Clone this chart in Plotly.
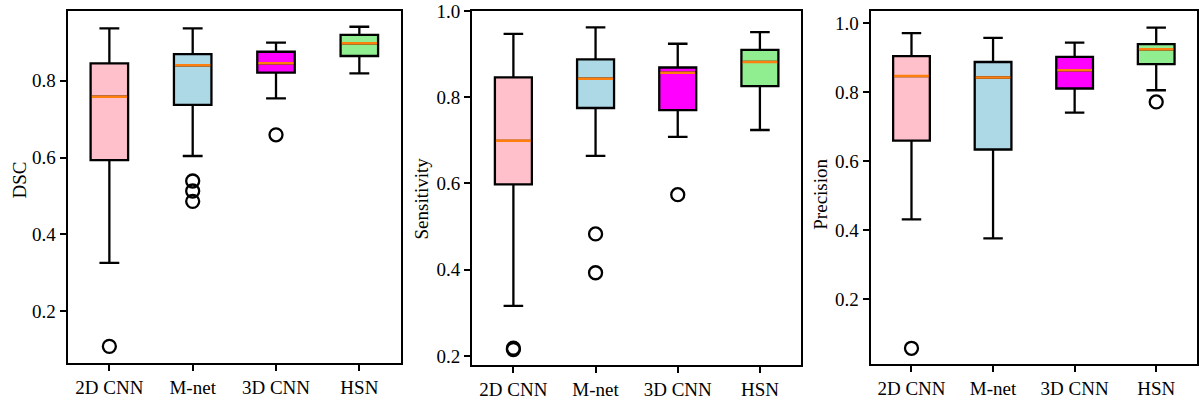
import plotly.graph_objects as go

W, H = 1199, 402

categories = ["2D CNN", "M-net", "3D CNN", "HSN"]
fill_colors = ["#FFC0CB", "#ADD8E6", "#FF00FF", "#90EE90"]

# DSC
dsc_lower = [0.326, 0.604, 0.754, 0.819]
dsc_q1 = [0.593, 0.737, 0.821, 0.864]
dsc_median = [0.758, 0.840, 0.845, 0.897]
dsc_q3 = [0.845, 0.869, 0.875, 0.919]
dsc_upper = [0.936, 0.936, 0.899, 0.940]
dsc_out = [[0.109], [0.539, 0.513, 0.486], [0.659], []]

# Sensitivity
sen_lower = [0.316, 0.664, 0.708, 0.724]
sen_q1 = [0.598, 0.775, 0.770, 0.826]
sen_median = [0.699, 0.843, 0.857, 0.882]
sen_q3 = [0.846, 0.888, 0.869, 0.910]
sen_upper = [0.947, 0.962, 0.924, 0.951]
sen_out = [[0.215, 0.218], [0.483, 0.393], [0.574], []]

# Precision
pre_lower = [0.431, 0.376, 0.741, 0.806]
pre_q1 = [0.660, 0.634, 0.811, 0.882]
pre_median = [0.847, 0.843, 0.864, 0.925]
pre_q3 = [0.905, 0.888, 0.903, 0.940]
pre_upper = [0.972, 0.958, 0.944, 0.988]
pre_out = [[0.057], [], [], [0.772]]

panels = [
    ("DSC", dsc_lower, dsc_q1, dsc_median, dsc_q3, dsc_upper, dsc_out,
     [0.0665, 0.981], [0.2, 0.4, 0.6, 0.8]),
    ("Sensitivity", sen_lower, sen_q1, sen_median, sen_q3, sen_upper, sen_out,
     [0.179, 1.0], [0.2, 0.4, 0.6, 0.8, 1.0]),
    ("Precision", pre_lower, pre_q1, pre_median, pre_q3, pre_upper, pre_out,
     [0.0105, 1.036], [0.2, 0.4, 0.6, 0.8, 1.0]),
]

# pixel layout of each panel: left, right, top, bottom
px_dom = [(67.7, 401.0, 11.0, 362.7), (472.3, 801.0, 11.0, 365.0), (870.7, 1197.0, 11.0, 364.3)]
label_pos = [(19.5, 180), (420.5, 199), (819.7, 194)]

BOX_W = 0.45
FONT = "Liberation Serif"
FS = 19
LW = 2.3

fig = go.Figure()
layout = dict(
    width=W, height=H, margin=dict(l=0, r=0, t=0, b=0, pad=0),
    paper_bgcolor="white", plot_bgcolor="white", showlegend=False,
    font=dict(family=FONT, size=FS, color="black"),
    annotations=[],
)

positions = [1, 2, 3, 4]
for p, (name, lo, q1, med, q3, up, outs, yr, ytv) in enumerate(panels):
    xa = "x" if p == 0 else f"x{p+1}"
    ya = "y" if p == 0 else f"y{p+1}"
    for i, cat in enumerate(categories):
        fig.add_trace(go.Box(
            x=[positions[i]], q1=[q1[i]], median=[med[i]], q3=[q3[i]],
            lowerfence=[lo[i]], upperfence=[up[i]],
            width=BOX_W, whiskerwidth=0.53,
            fillcolor=fill_colors[i], line=dict(color="black", width=LW),
            boxpoints=False, xaxis=xa, yaxis=ya, hoverinfo="skip",
        ))
    for i, cat in enumerate(categories):
        fig.add_trace(go.Scatter(
            x=[positions[i] - BOX_W / 2 + 0.012, positions[i] + BOX_W / 2 - 0.012],
            y=[med[i], med[i]], mode="lines",
            line=dict(color="#FF7F0E", width=2.5),
            xaxis=xa, yaxis=ya, hoverinfo="skip",
        ))
        if outs[i]:
            fig.add_trace(go.Scatter(
                x=[positions[i]] * len(outs[i]), y=outs[i], mode="markers",
                marker=dict(symbol="circle-open", size=13, color="black",
                            line=dict(width=LW, color="black")),
                xaxis=xa, yaxis=ya, hoverinfo="skip",
            ))
    l, r, t, b = px_dom[p]
    xkey = "xaxis" if p == 0 else f"xaxis{p+1}"
    ykey = "yaxis" if p == 0 else f"yaxis{p+1}"
    layout[xkey] = dict(
        domain=[l / W, r / W], anchor=ya, range=[0.5, 4.5],
        tickmode="array", tickvals=positions, ticktext=categories,
        showgrid=False, zeroline=False, showline=True, mirror=True,
        linecolor="black", linewidth=LW, ticks="outside", ticklen=6,
        tickwidth=LW, tickcolor="black", tickfont=dict(family=FONT, size=FS),
        automargin=False,
    )
    layout[ykey] = dict(
        domain=[1 - b / H, 1 - t / H], anchor=xa, range=yr,
        tickmode="array", tickvals=ytv, tickformat=".1f",
        showgrid=False, zeroline=False, showline=True, mirror=True,
        linecolor="black", linewidth=LW, ticks="outside", ticklen=6,
        tickwidth=LW, tickcolor="black", tickfont=dict(family=FONT, size=FS),
        automargin=False,
    )
    lx, ly = label_pos[p]
    layout["annotations"].append(dict(
        text=name, xref="paper", yref="paper", x=lx / W, y=1 - ly / H,
        xanchor="center", yanchor="middle", textangle=-90, showarrow=False,
        font=dict(family=FONT, size=FS, color="black"),
    ))

fig.update_layout(**layout)
fig.write_html(
    "out.html",
    config={"displayModeBar": False},
    post_script="document.body.style.margin='0px';document.body.style.overflow='hidden';",
)
